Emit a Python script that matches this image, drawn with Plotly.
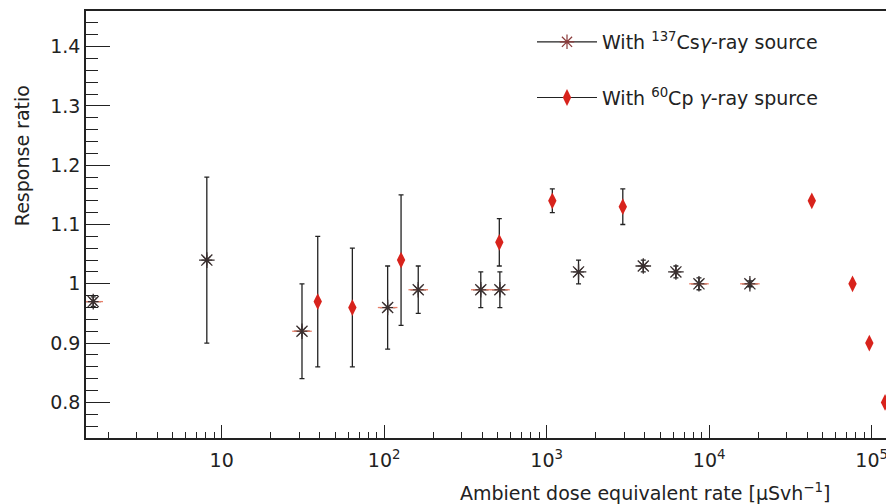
import plotly.graph_objects as go

# ---- data ----
cs_x = [1.62, 8.1, 31.2, 105, 162, 393, 515, 1570, 3930, 6240, 8650, 17800]
cs_y = [0.97, 1.04, 0.92, 0.96, 0.99, 0.99, 0.99, 1.02, 1.03, 1.02, 1.00, 1.00]
cs_err = [0.008, 0.14, 0.08, 0.07, 0.04, 0.03, 0.03, 0.02, 0.01, 0.01, 0.01, 0.005]

co_x = [39, 63.7, 127, 511, 1083, 2940, 42800, 76200, 96700, 120800]
co_y = [0.97, 0.96, 1.04, 1.07, 1.14, 1.13, 1.14, 1.00, 0.90, 0.80]
co_err = [0.11, 0.10, 0.11, 0.04, 0.02, 0.03, 0.0, 0.0, 0.0, 0.0]

x_tickvals = [10, 100, 1000, 10000, 100000]
x_ticktext = ["10", "10<sup>2</sup>", "10<sup>3</sup>", "10<sup>4</sup>", "10<sup>5</sup>"]
y_tickvals = [0.8, 0.9, 1.0, 1.1, 1.2, 1.3, 1.4]
y_ticktext = ["0.8", "0.9", "1", "1.1", "1.2", "1.3", "1.4"]

cs_name = "With <sup>137</sup>Cs<i>γ</i>-ray source"
co_name = "With <sup>60</sup>Cp <i>γ</i>-ray spurce"

# style: points where the asterisk shows a reddish horizontal stroke
cs_tinted = [0, 2, 3, 4, 5, 6, 10, 11]

FONT = "DejaVu Sans, Liberation Sans, Arial, sans-serif"
FS = 19
RED = "#d8231c"
AST = "#3a3030"
INK = "#222222"

fig = go.Figure()

fig.add_trace(go.Scatter(
    x=cs_x, y=cs_y, mode="markers", showlegend=False,
    error_y=dict(type="data", array=cs_err, color=INK, thickness=1.3, width=2.5),
    marker=dict(symbol="asterisk-open", size=13, color=AST, line=dict(color=AST, width=1.3)),
))
fig.add_trace(go.Scatter(
    x=[cs_x[i] for i in cs_tinted], y=[cs_y[i] for i in cs_tinted],
    mode="markers", showlegend=False, hoverinfo="skip",
    marker=dict(symbol="line-ew-open", size=14, color="#e8806a",
                line=dict(color="#e8806a", width=1.3)),
))
fig.add_trace(go.Scatter(
    x=cs_x, y=cs_y, mode="markers", showlegend=False, hoverinfo="skip",
    marker=dict(symbol="asterisk-open", size=9, color=AST, line=dict(color=AST, width=1.1)),
))
fig.add_trace(go.Scatter(
    x=co_x, y=co_y, mode="markers", showlegend=False, cliponaxis=True,
    error_y=dict(type="data", array=co_err, color=INK, thickness=1.3, width=2.5),
    marker=dict(symbol="diamond-tall", size=12, color=RED, line=dict(width=0)),
))

# legend entries
fig.add_trace(go.Scatter(
    x=[None], y=[None], mode="lines+markers", name=cs_name, legendgroup="a",
    line=dict(color=INK, width=1.2),
    marker=dict(symbol="asterisk-open", size=12, color="#8a3a3a",
                line=dict(color="#8a3a3a", width=1.2)),
))
fig.add_trace(go.Scatter(
    x=[None], y=[None], mode="lines+markers", name=co_name, legendgroup="b",
    line=dict(color=INK, width=1.2),
    marker=dict(symbol="diamond-tall", size=12, color=RED),
))

fig.update_layout(
    width=886, height=504,
    margin=dict(l=86, r=0, t=11, b=66, autoexpand=False),
    paper_bgcolor="white", plot_bgcolor="white",
    font=dict(family=FONT, size=FS, color=INK),
    showlegend=True,
    legend=dict(
        x=0.5575, y=0.972, xanchor="left", yanchor="top",
        bgcolor="rgba(0,0,0,0)", font=dict(size=FS, family=FONT, color=INK),
        itemwidth=60, tracegroupgap=28, traceorder="grouped",
    ),
    xaxis=dict(
        type="log", range=[0.165, 5.088], automargin=False,
        tickvals=x_tickvals, ticktext=x_ticktext,
        ticks="inside", ticklen=13, tickwidth=1.2, tickcolor=INK,
        showline=True, linecolor=INK, linewidth=1.6, mirror=True,
        showgrid=False, zeroline=False,
        tickfont=dict(size=FS, family=FONT, color=INK),
        ticklabelstandoff=4, ticklabeloverflow="allow",
        minor=dict(ticks="inside", ticklen=6, tickwidth=1.2, tickcolor=INK,
                   dtick="D1", showgrid=False),
    ),
    yaxis=dict(
        range=[0.74, 1.46], automargin=False,
        tickvals=y_tickvals, ticktext=y_ticktext,
        ticks="inside", ticklen=24, tickwidth=1.2, tickcolor=INK,
        showline=True, linecolor=INK, linewidth=1.6, mirror=False,
        showgrid=False, zeroline=False,
        tickfont=dict(size=FS, family=FONT, color=INK),
        minor=dict(ticks="inside", ticklen=12, tickwidth=1.2, tickcolor=INK,
                   dtick=0.02, tick0=0, showgrid=False),
    ),
    annotations=[
        dict(text="Response ratio", xref="paper", yref="paper",
             x=-0.08, y=0.66, xanchor="center", yanchor="middle",
             textangle=-90, showarrow=False,
             font=dict(size=FS, family=FONT, color=INK)),
        dict(text="Ambient dose equivalent rate [μSvh<sup>−1</sup>]",
             xref="paper", yref="paper", x=0.932, y=-0.126,
             xanchor="right", yanchor="middle", showarrow=False,
             font=dict(size=FS, family=FONT, color=INK)),
    ],
)

fig.write_html(
    "out.html",
    config={"displayModeBar": False},
    post_script="document.body.style.margin='0';document.body.style.overflow='hidden';",
)
